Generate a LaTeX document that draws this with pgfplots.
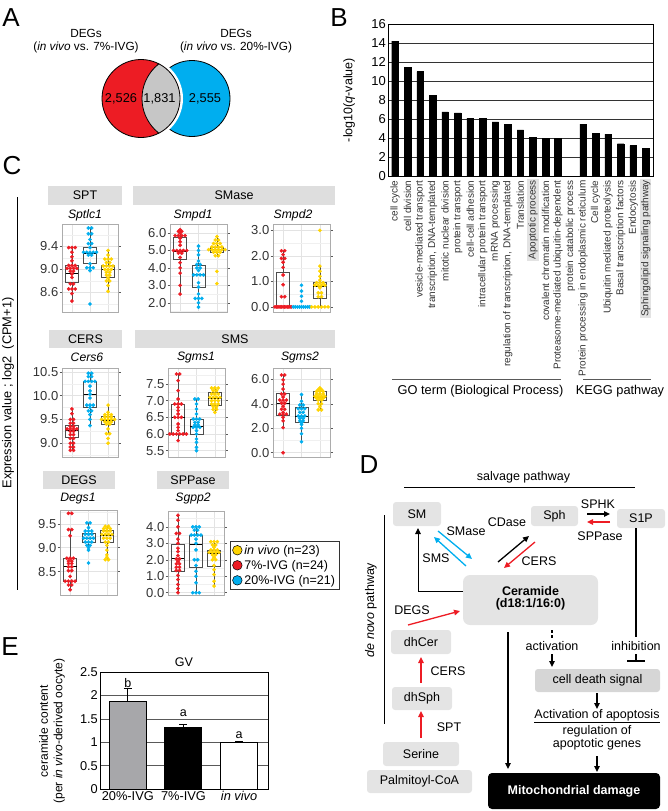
\documentclass[border=0pt]{standalone}
\usepackage{pgfplots}
\pgfplotsset{compat=1.18}
\usepgfplotslibrary{statistics}
\usetikzlibrary{arrows.meta}
\usepackage{fontspec}
\setmainfont{Liberation Sans}
\definecolor{cred}{HTML}{ED1C24}
\definecolor{cblue}{HTML}{00AEEF}
\definecolor{cyel}{HTML}{FFD400}
\definecolor{strip}{HTML}{DEDEDE}
\definecolor{boxg}{HTML}{E4E4E4}
\definecolor{barg}{HTML}{A7A7AA}
\pgfplotsset{
 cplot/.style={scale only axis, anchor=north west, xmin=-0.55, xmax=2.55, xtick={0,1,2}, xticklabels={},
   x tick style={draw=none}, y tick style={draw=gray!70!black, line width=0.5pt},
   major tick length=2.5pt, minor tick length=0pt, tick align=outside,
   axis line style={gray!65, line width=0.6pt},
   xmajorgrids, ymajorgrids, yminorgrids,
   major grid style={gray!22, line width=0.5pt}, minor grid style={gray!12, line width=0.4pt},
   /pgf/number format/assume math mode=true,
   yticklabel style={/pgf/number format/.cd, fixed, fixed zerofill, precision=1, /tikz/.cd, font=\fontsize{13}{14}\selectfont, text=black!80, inner sep=1pt},
   boxplot/draw direction=y, boxplot/box extend=0.7, boxplot/whisker extend=0,
   boxplot/every median/.style={black, line width=0.9pt},
 },
 dots/.style={only marks, mark=*, mark size=1.65pt, mark options={draw=none}},
 bx/.style={draw=gray!60!black, line width=0.5pt, solid, mark=none, fill=none},
}
\tikzset{arr/.style={-{Triangle[length=6pt,width=5.5pt]}, line width=1.3pt},
 blab/.style={rotate=90, anchor=east, inner sep=1.5pt, font=\fontsize{10}{11}\selectfont, text=black!80},
 blabh/.style={blab, fill=gray!22, inner sep=1pt}}
\begin{document}
\begin{tikzpicture}[font=\fontsize{12.5}{14.5}\selectfont]
\useasboundingbox (0pt,0pt) rectangle (667pt,-811pt);
\begin{scope}[x=1pt,y=-1pt]
% panel letters
\node[font=\fontsize{26}{28}\selectfont] at (11,17.5) {A};
\node[font=\fontsize{26}{28}\selectfont] at (339,18) {B};
\node[font=\fontsize{26}{28}\selectfont] at (12,166) {C};
\node[font=\fontsize{26}{28}\selectfont] at (369,465) {D};
\node[font=\fontsize{26}{28}\selectfont] at (10,647) {E};
% ---------- A: Venn
\node[align=center, font=\fontsize{11.8}{13}\selectfont] at (86,41.5) {DEGs\\(\textit{in vivo} vs. 7\%-IVG)};
\node[align=center, font=\fontsize{11.8}{13}\selectfont] at (236,41.5) {DEGs\\(\textit{in vivo} vs. 20\%-IVG)};
\fill[cblue] (192,98.5) circle (38);
\draw[black, line width=0.8pt] (192,98.5) circle (38);
\fill[white] (141,98.5) circle (42);
\fill[cred] (141,98.5) circle (39);
\begin{scope}
 \clip (141,98.5) circle (39);
 \fill[gray!45] (186,98.5) circle (44);
 \draw[black, line width=0.8pt] (186,98.5) circle (44);
\end{scope}
\draw[black, line width=0.8pt] (141,98.5) circle (39);
\node[font=\fontsize{12.8}{14}\selectfont] at (121,99) {2,526};
\node[font=\fontsize{12.8}{14}\selectfont] at (159.5,99) {1,831};
\node[font=\fontsize{12.8}{14}\selectfont] at (205,99) {2,555};
% ---------- B: group lines
\draw[gray!70!black, line width=1pt] (392,379) -- (561,379);
\draw[gray!70!black, line width=1pt] (583,379) -- (651,379);
\node[font=\fontsize{12.8}{14}\selectfont] at (480.5,391) {GO term (Biological Process)};
\node[font=\fontsize{12.8}{14}\selectfont] at (620,391) {KEGG pathway};
% ---------- C: strips, labels
\draw[black, line width=0.8pt] (17,197) -- (17,590);
\node[rotate=90, font=\fontsize{12.8}{14}\selectfont] at (8,393) {Expression value ; log2 \ (CPM+1)};
\fill[strip] (48,186) rectangle (122,205); \node at (85,195.5) {SPT};
\fill[strip] (133,186) rectangle (335,205); \node at (234,195.5) {SMase};
\node[font=\itshape\fontsize{12.2}{13}\selectfont] at (85,215) {Sptlc1};
\node[font=\itshape\fontsize{12.2}{13}\selectfont] at (193,215) {Smpd1};
\node[font=\itshape\fontsize{12.2}{13}\selectfont] at (293,215) {Smpd2};
\fill[strip] (49,330) rectangle (122,348); \node at (85.5,339) {CERS};
\fill[strip] (135,330) rectangle (335,348); \node at (235,339) {SMS};
\node[font=\itshape\fontsize{12.2}{13}\selectfont] at (87,357.5) {Cers6};
\node[font=\itshape\fontsize{12.2}{13}\selectfont] at (196,357.5) {Sgms1};
\node[font=\itshape\fontsize{12.2}{13}\selectfont] at (300,357.5) {Sgms2};
\fill[strip] (43,471) rectangle (115,489); \node at (79,480) {DEGS};
\fill[strip] (157,471) rectangle (229,489); \node at (193,480) {SPPase};
\node[font=\itshape\fontsize{12.2}{13}\selectfont] at (78,498.5) {Degs1};
\node[font=\itshape\fontsize{12.2}{13}\selectfont] at (193,498.5) {Sgpp2};
% ---------- E: y label
\node[rotate=90, align=center, font=\fontsize{12}{14.5}\selectfont] at (52,731) {ceramide content\\(per \textit{in vivo}-derived oocyte)};
% ---------- D: diagram
\node at (523.5,477) {salvage pathway};
\draw[line width=0.8pt] (404,487) -- (635,487);
\fill[boxg, rounded corners=3pt] (393,502) rectangle (441,526); \node at (417,514) {SM};
\fill[boxg, rounded corners=3pt] (531,506) rectangle (578,526); \node at (554.5,516) {Sph};
\fill[boxg, rounded corners=3pt] (617,509) rectangle (665,528); \node at (641,518.5) {S1P};
\fill[boxg, rounded corners=7pt] (463,575) rectangle (598,625);
\node[align=center, font=\bfseries\fontsize{12.5}{12}\selectfont] at (530.5,598) {Ceramide\\(d18:1/16:0)};
\fill[boxg, rounded corners=3pt] (391,630) rectangle (451,654); \node at (421,642) {dhCer};
\fill[boxg, rounded corners=3pt] (392,687) rectangle (452,710); \node at (422,698.5) {dhSph};
\fill[boxg, rounded corners=3pt] (383,742) rectangle (459,766); \node at (421,754) {Serine};
\fill[boxg, rounded corners=3pt] (367,770) rectangle (472,793); \node at (419.5,781.5) {Palmitoyl-CoA};
\fill[gray!32, rounded corners=3pt] (535,669) rectangle (660,692); \node at (597.5,680.5) {cell death signal};
\fill[black, rounded corners=4pt] (488,773) rectangle (660,809);
\node[white, font=\bfseries\fontsize{12.5}{14}\selectfont] at (574,791) {Mitochondrial damage};
\draw[arr] (587,514) -- (610,514); \node at (598,504) {SPHK};
\draw[arr, cred] (610,522) -- (587,522); \node at (600,536) {SPPase};
\draw[arr, cblue] (438,531) -- (472,559);
\draw[arr, cblue] (466,566) -- (434,537);
\node at (466,531) {SMase};
\node at (436,558) {SMS};
\draw[arr] (498,562) -- (529,536); \node at (507,522.5) {CDase};
\draw[arr, cred] (535,542) -- (504,568); \node at (539,561) {CERS};
\draw[line width=1pt, -{Triangle[length=6pt,width=5.5pt]}] (463,591) -- (418,591) -- (418,528);
\draw[line width=0.8pt] (384,515) -- (384,724);
\node[rotate=90] at (371,610) {\textit{de novo} pathway};
\draw[line width=1.3pt] (636,528) -- (636,637);
\node at (636,646) {inhibition};
\draw[line width=1.3pt] (636,654) -- (636,661);
\draw[line width=2.6pt] (627,661) -- (645,661);
\draw[line width=1.3pt, dash pattern=on 3pt off 2pt] (552,630) -- (552,638);
\node at (552,646) {activation};
\draw[arr] (552,654) -- (552,667);
\draw[arr] (508,632) -- (508,769);
\draw[arr] (597,693) -- (597,709);
\node at (597,716) {\underline{Activation of apoptosis}};
\node[align=center, font=\fontsize{12.5}{11.5}\selectfont] at (597,737.5) {regulation of\\apoptotic genes};
\draw[arr] (597,756) -- (597,772);
\draw[arr, cred] (408,625) -- (460,611); \node at (412,610.5) {DEGS};
\draw[arr, cred] (421,683) -- (421,657); \node at (448,671) {CERS};
\draw[arr, cred] (421,738) -- (421,711); \node at (449,727) {SPT};
\node[font=\fontsize{12.5}{14}\selectfont] at (184,662) {GV};
\end{scope}

% ================= B: bar chart
\begin{axis}[at={(388pt,-24pt)}, anchor=north west, scale only axis, width=265pt, height=152pt,
 ymin=0, ymax=16, ytick={0,2,...,16}, xmin=-0.56, xmax=20.58,
 xtick={0,...,20}, xticklabels={}, clip=false,
 tick style={draw=none},
 ymajorgrids, major grid style={black!80, line width=0.5pt},
 axis line style={black, line width=0.7pt},
 /pgf/number format/assume math mode=true,
 yticklabel style={font=\fontsize{13}{14}\selectfont, inner sep=2pt},
 ylabel={-log10({\itshape q}-value)}, ylabel style={font=\fontsize{12.5}{14}\selectfont, at={(axis description cs:-0.147,0.5)}, anchor=center},
]
\addplot[ybar, bar width=6.6pt, bar shift=0pt, fill=black, draw=black] coordinates {
(0,14.2)(1,11.45)(2,11.0)(3,8.5)(4,6.75)(5,6.65)(6,6.1)(7,6.1)(8,5.7)(9,5.45)(10,4.85)(11,4.05)(12,3.95)(13,3.95)
(15,5.45)(16,4.5)(17,4.4)(18,3.4)(19,3.2)(20,2.9)};
\node[blab] at (axis cs:0,-0.3) {cell cycle};
\node[blab] at (axis cs:1,-0.3) {cell division};
\node[blab] at (axis cs:2,-0.3) {vesicle-mediated transport};
\node[blab] at (axis cs:3,-0.3) {transcription, DNA-templated};
\node[blab] at (axis cs:4,-0.3) {mitotic nuclear division};
\node[blab] at (axis cs:5,-0.3) {protein transport};
\node[blab] at (axis cs:6,-0.3) {cell-cell adhesion};
\node[blab] at (axis cs:7,-0.3) {intracellular protein transport};
\node[blab] at (axis cs:8,-0.3) {mRNA processing};
\node[blab] at (axis cs:9,-0.3) {regulation of transcription, DNA-templated};
\node[blab] at (axis cs:10,-0.3) {Translation};
\node[blabh] at (axis cs:11,-0.3) {Apoptotic process};
\node[blab] at (axis cs:12,-0.3) {covalent chromatin modification};
\node[blab] at (axis cs:13,-0.3) {Proteasome-mediated ubiquitin-dependent};
\node[blab] at (axis cs:14,-0.3) {protein catabolic process};
\node[blab] at (axis cs:15,-0.3) {Protein processing in endoplasmic reticulum};
\node[blab] at (axis cs:16,-0.3) {Cell cycle};
\node[blab] at (axis cs:17,-0.3) {Ubiquitin mediated proteolysis};
\node[blab] at (axis cs:18,-0.3) {Basal transcription factors};
\node[blab] at (axis cs:19,-0.3) {Endocytosis};
\node[blabh] at (axis cs:20,-0.3) {Sphingolipid signaling pathway};
\end{axis}

% ================= C: Sptlc1
\begin{axis}[cplot, at={(62pt,-224pt)}, width=56pt, height=88pt, ymin=8.26, ymax=9.79, ytick={8.6,9.0,9.4}, minor ytick={8.4,8.8,9.2,9.6}]
\addplot[dots, cred] coordinates {(-0.18,9.38)(0,9.38)(0.18,9.38)(0,9.30)(0,9.22)(0,9.15)(-0.18,9.07)(0,9.07)(0.18,9.07)(-0.27,9.02)(-0.09,9.02)(0.09,9.02)(0.27,9.02)(-0.09,8.97)(0.09,8.97)(0,8.92)(0,8.86)(-0.09,8.75)(0.09,8.75)(-0.18,8.66)(0,8.66)(0.18,8.66)(0,8.58)(0,8.45)};
\addplot[dots, cblue] coordinates {(0.91,9.72)(1.09,9.72)(0.91,9.62)(1.09,9.62)(1,9.52)(0.91,9.45)(1.09,9.45)(1,9.38)(0.64,9.3)(0.82,9.3)(1,9.3)(1.18,9.3)(1.36,9.3)(0.91,9.25)(1.09,9.25)(1,9.1)(0.82,9.03)(1,9.03)(1.18,9.03)(1,8.98)(1,8.4)};
\addplot[dots, cyel] coordinates {(2,9.33)(2,9.25)(1.82,9.18)(2,9.18)(2.18,9.18)(1.91,9.12)(2.09,9.12)(1.73,9.06)(1.91,9.06)(2.09,9.06)(2.27,9.06)(1.82,9.0)(2,9.0)(2.18,9.0)(1.91,8.95)(2.09,8.95)(1.91,8.9)(2.09,8.9)(2,8.85)(1.91,8.8)(2.09,8.8)(2,8.72)(2,8.62)};
\addplot[bx, boxplot prepared={draw position=0, lower whisker=8.45, lower quartile=8.78, median=8.93, upper quartile=9.07, upper whisker=9.38}] coordinates {};
\addplot[bx, boxplot prepared={draw position=1, lower whisker=8.98, lower quartile=9.1, median=9.28, upper quartile=9.38, upper whisker=9.72}] coordinates {};
\addplot[bx, boxplot prepared={draw position=2, lower whisker=8.62, lower quartile=8.86, median=9.0, upper quartile=9.08, upper whisker=9.33}] coordinates {};
\end{axis}

% ================= C: Smpd1
\begin{axis}[cplot, at={(170pt,-224pt)}, width=57pt, height=88pt, ymin=1.47, ymax=6.52, ytick={2,3,4,5,6}, minor ytick={1.5,2.5,3.5,4.5,5.5,6.5}]
\addplot[dots, cred] coordinates {(0,6.2)(-0.09,6.1)(0.09,6.1)(0,6.0)(-0.27,5.85)(-0.09,5.85)(0.09,5.85)(0.27,5.85)(0,5.7)(0,5.5)(0,5.3)(-0.36,5.0)(-0.18,5.0)(0,5.0)(0.18,5.0)(0.36,5.0)(-0.09,4.85)(0.09,4.85)(0,4.6)(0,4.3)(0,4.0)(0,3.7)(0,3.0)(0,2.5)};
\addplot[dots, cblue] coordinates {(1,5.25)(1,5.0)(1,4.75)(1,4.4)(0.91,4.2)(1.09,4.2)(0.91,4.0)(1.09,4.0)(1,3.85)(0.73,3.6)(0.91,3.6)(1.09,3.6)(1.27,3.6)(1,3.15)(1,2.9)(1,2.5)(0.82,2.25)(1,2.25)(1.18,2.25)(1,2.0)(1,1.75)};
\addplot[dots, cyel] coordinates {(2,5.8)(1.91,5.6)(2.09,5.6)(1.82,5.4)(2,5.4)(2.18,5.4)(1.73,5.2)(1.91,5.2)(2.09,5.2)(2.27,5.2)(1.55,5.05)(1.73,5.05)(1.91,5.05)(2.09,5.05)(2.27,5.05)(2.45,5.05)(1.82,4.9)(2,4.9)(2.18,4.9)(1.91,4.7)(2.09,4.7)(2,3.8)(2,3.1)};
\addplot[bx, boxplot prepared={draw position=0, lower whisker=2.5, lower quartile=4.5, median=4.95, upper quartile=5.75, upper whisker=6.2}] coordinates {};
\addplot[bx, boxplot prepared={draw position=1, lower whisker=1.75, lower quartile=2.9, median=3.6, upper quartile=4.15, upper whisker=5.25}] coordinates {};
\addplot[bx, boxplot prepared={draw position=2, lower whisker=4.6, lower quartile=4.88, median=5.05, upper quartile=5.2, upper whisker=5.8}] coordinates {};
\end{axis}

% ================= C: Smpd2
\begin{axis}[cplot, at={(273pt,-224pt)}, width=57pt, height=88pt, ymin=-0.2, ymax=3.25, ytick={0,1,2,3}, minor ytick={0.5,1.5,2.5}]
\addplot[dots, cred] coordinates {(-0.09,2.2)(0.09,2.2)(0,2.05)(-0.09,1.9)(0.09,1.9)(0,1.75)(0,1.55)(0,1.25)(0,0.87)(-0.09,0.4)(0.09,0.4)(-0.45,0)(-0.375,0)(-0.3,0)(-0.225,0)(-0.15,0)(-0.075,0)(0,0)(0.075,0)(0.15,0)(0.225,0)(0.3,0)(0.375,0)(0.45,0)};
\addplot[dots, cblue] coordinates {(1,0.85)(1,0.62)(1,0.42)(1,0.22)(0.55,0)(0.66,0)(0.78,0)(0.89,0)(1,0)(1.11,0)(1.22,0)(1.34,0)(1.45,0)};
\addplot[dots, cyel] coordinates {(2,3.0)(2,1.6)(2,1.4)(2,1.2)(2,1.05)(1.82,0.95)(2,0.95)(2.18,0.95)(1.73,0.85)(1.91,0.85)(2.09,0.85)(2.27,0.85)(2,0.75)(1.91,0.55)(2.09,0.55)(1.91,0.4)(2.09,0.4)(1.55,0)(1.73,0)(1.91,0)(2.09,0)(2.27,0)(2.45,0)};
\addplot[bx, boxplot prepared={draw position=0, lower whisker=0, lower quartile=0, median=0, upper quartile=1.35, upper whisker=2.2}] coordinates {};
\addplot[bx, boxplot prepared={draw position=1, lower whisker=0, lower quartile=0, median=0, upper quartile=0, upper whisker=0}] coordinates {};
\addplot[bx, boxplot prepared={draw position=2, lower whisker=0, lower quartile=0.35, median=0.82, upper quartile=0.95, upper whisker=1.6}] coordinates {};
\end{axis}

% ================= C: Cers6
\begin{axis}[cplot, at={(62pt,-368pt)}, width=56pt, height=89pt, ymin=8.71, ymax=10.58, ytick={9.0,9.5,10.0,10.5}, minor ytick={8.75,9.25,9.75,10.25}]
\addplot[dots, cred] coordinates {(0,9.72)(0,9.62)(-0.09,9.5)(0.09,9.5)(-0.09,9.42)(0.09,9.42)(-0.09,9.35)(0.09,9.35)(-0.27,9.3)(-0.09,9.3)(0.09,9.3)(0.27,9.3)(-0.09,9.25)(0.09,9.25)(-0.09,9.18)(0.09,9.18)(-0.09,9.1)(0.09,9.1)(-0.09,9.0)(0.09,9.0)(-0.09,8.92)(0.09,8.92)(-0.09,8.85)(0.09,8.85)};
\addplot[dots, cblue] coordinates {(0.91,10.47)(1.09,10.47)(0.91,10.4)(1.09,10.4)(0.73,10.3)(0.91,10.3)(1.09,10.3)(1.27,10.3)(1,10.2)(1,10.1)(1,10.03)(1,9.95)(0.82,9.8)(1,9.8)(1.18,9.8)(1,9.75)(0.91,9.68)(1.09,9.68)(1,9.6)(1,9.5)(1,9.37)};
\addplot[dots, cyel] coordinates {(2,9.8)(2,9.65)(1.82,9.6)(2,9.6)(2.18,9.6)(1.82,9.55)(2,9.55)(2.18,9.55)(1.64,9.5)(1.82,9.5)(2,9.5)(2.18,9.5)(2.36,9.5)(1.82,9.45)(2,9.45)(2.18,9.45)(1.91,9.4)(2.09,9.4)(2,9.3)(1.91,9.2)(2.09,9.2)(2,9.1)(2,9.0)};
\addplot[bx, boxplot prepared={draw position=0, lower whisker=8.85, lower quartile=9.13, median=9.27, upper quartile=9.37, upper whisker=9.72}] coordinates {};
\addplot[bx, boxplot prepared={draw position=1, lower whisker=9.37, lower quartile=9.75, median=10.03, upper quartile=10.3, upper whisker=10.47}] coordinates {};
\addplot[bx, boxplot prepared={draw position=2, lower whisker=9.2, lower quartile=9.4, median=9.48, upper quartile=9.57, upper whisker=9.8}] coordinates {};
\end{axis}

% ================= C: Sgms1
\begin{axis}[cplot, at={(168pt,-368pt)}, width=57pt, height=89pt, ymin=5.31, ymax=7.98, ytick={5.5,6.0,6.5,7.0,7.5}, minor ytick={5.75,6.25,6.75,7.25,7.75}]
\addplot[dots, cred] coordinates {(-0.09,7.8)(0.09,7.8)(0,7.6)(0,7.3)(0,7.05)(-0.18,6.9)(0,6.9)(0.18,6.9)(0,6.8)(0,6.7)(0,6.6)(-0.18,6.5)(0,6.5)(0.18,6.5)(0,6.3)(0,6.2)(0,6.1)(-0.45,6.0)(-0.27,6.0)(-0.09,6.0)(0.09,6.0)(0.27,6.0)(0.45,6.0)(0,5.8)};
\addplot[dots, cblue] coordinates {(0.91,7.05)(1.09,7.05)(1,6.9)(1,6.75)(1,6.6)(0.82,6.45)(1,6.45)(1.18,6.45)(0.91,6.35)(1.09,6.35)(0.91,6.27)(1.09,6.27)(0.82,6.2)(1,6.2)(1.18,6.2)(1,6.1)(1,6.0)(1,5.85)(1,5.75)(1,5.6)(1,5.5)};
\addplot[dots, cyel] coordinates {(1.82,7.38)(2,7.38)(2.18,7.38)(1.91,7.3)(2.09,7.3)(1.82,7.2)(2,7.2)(2.18,7.2)(1.73,7.1)(1.91,7.1)(2.09,7.1)(2.27,7.1)(1.82,7.0)(2,7.0)(2.18,7.0)(1.82,6.9)(2,6.9)(2.18,6.9)(1.91,6.82)(2.09,6.82)(1.91,6.74)(2.09,6.74)(2,6.65)};
\addplot[bx, boxplot prepared={draw position=0, lower whisker=5.8, lower quartile=6.0, median=6.5, upper quartile=6.9, upper whisker=7.8}] coordinates {};
\addplot[bx, boxplot prepared={draw position=1, lower whisker=5.5, lower quartile=6.0, median=6.22, upper quartile=6.45, upper whisker=7.05}] coordinates {};
\addplot[bx, boxplot prepared={draw position=2, lower whisker=6.65, lower quartile=6.85, median=7.08, upper quartile=7.25, upper whisker=7.38}] coordinates {};
\end{axis}

% ================= C: Sgms2
\begin{axis}[cplot, at={(273pt,-368pt)}, width=57pt, height=89pt, ymin=-0.35, ymax=6.92, ytick={0,2,4,6}, minor ytick={1,3,5}]
\addplot[dots, cred] coordinates {(-0.09,6.35)(0.09,6.35)(0,5.95)(0,5.6)(0,5.2)(-0.09,4.8)(0.09,4.8)(0,4.55)(-0.18,4.3)(0,4.3)(0.18,4.3)(-0.09,4.05)(0.09,4.05)(0,3.8)(-0.09,3.55)(0.09,3.55)(0,3.3)(-0.18,3.15)(0,3.15)(0.18,3.15)(0,2.9)(0,2.6)(0,2.05)(0,0)};
\addplot[dots, cblue] coordinates {(1,4.75)(1,4.2)(0.91,3.9)(1.09,3.9)(0.82,3.6)(1,3.6)(1.18,3.6)(0.91,3.3)(1.09,3.3)(0.82,3.0)(1,3.0)(1.18,3.0)(0.91,2.8)(1.09,2.8)(0.91,2.6)(1.09,2.6)(1,2.3)(1,2.0)(1,1.55)(1,0.9)(1,2.45)};
\addplot[dots, cyel] coordinates {(2,5.3)(1.91,5.15)(2.09,5.15)(1.82,5.0)(2,5.0)(2.18,5.0)(1.82,4.8)(2,4.8)(2.18,4.8)(1.73,4.6)(1.91,4.6)(2.09,4.6)(2.27,4.6)(1.82,4.45)(2,4.45)(2.18,4.45)(1.91,4.3)(2.09,4.3)(1.91,4.0)(2.09,4.0)(2,3.75)(1.91,3.5)(2.09,3.5)};
\addplot[bx, boxplot prepared={draw position=0, lower whisker=2.05, lower quartile=3.1, median=4.05, upper quartile=4.85, upper whisker=6.35}] coordinates {};
\addplot[bx, boxplot prepared={draw position=1, lower whisker=0.9, lower quartile=2.5, median=2.95, upper quartile=3.75, upper whisker=4.75}] coordinates {};
\addplot[bx, boxplot prepared={draw position=2, lower whisker=3.5, lower quartile=4.3, median=4.55, upper quartile=5.05, upper whisker=5.3}] coordinates {};
\end{axis}

% ================= C: Degs1
\begin{axis}[cplot, at={(60pt,-510pt)}, width=57pt, height=85pt, ymin=8.01, ymax=9.79, ytick={8.5,9.0,9.5}, minor ytick={8.25,8.75,9.25,9.75}]
\addplot[dots, cred] coordinates {(-0.09,9.72)(0.09,9.72)(-0.09,9.38)(0.09,9.38)(0,9.25)(-0.18,8.78)(0,8.78)(0.18,8.78)(-0.09,8.72)(0.09,8.72)(-0.09,8.67)(0.09,8.67)(-0.09,8.6)(0.09,8.6)(-0.09,8.52)(0.09,8.52)(0,8.4)(-0.27,8.3)(-0.09,8.3)(0.09,8.3)(0.27,8.3)(-0.09,8.22)(0.09,8.22)(0,8.12)};
\addplot[dots, cblue] coordinates {(0.91,9.52)(1.09,9.52)(1,9.42)(0.82,9.35)(1,9.35)(1.18,9.35)(0.82,9.28)(1,9.28)(1.18,9.28)(0.73,9.2)(0.91,9.2)(1.09,9.2)(1.27,9.2)(0.82,9.12)(1,9.12)(1.18,9.12)(0.91,9.05)(1.09,9.05)(1,8.95)(1,8.68)(1,9.0)};
\addplot[dots, cyel] coordinates {(1.91,9.45)(2.09,9.45)(1.82,9.4)(2,9.4)(2.18,9.4)(1.82,9.35)(2,9.35)(2.18,9.35)(1.73,9.28)(1.91,9.28)(2.09,9.28)(2.27,9.28)(1.82,9.2)(2,9.2)(2.18,9.2)(1.91,9.12)(2.09,9.12)(2,9.05)(2,8.95)(2,8.85)(2,8.8)(1.91,8.75)(2.09,8.75)};
\addplot[bx, boxplot prepared={draw position=0, lower whisker=8.12, lower quartile=8.3, median=8.6, upper quartile=8.78, upper whisker=9.38}] coordinates {};
\addplot[bx, boxplot prepared={draw position=1, lower whisker=8.95, lower quartile=9.12, median=9.2, upper quartile=9.3, upper whisker=9.52}] coordinates {};
\addplot[bx, boxplot prepared={draw position=2, lower whisker=8.75, lower quartile=9.12, median=9.25, upper quartile=9.36, upper whisker=9.45}] coordinates {};
\end{axis}

% ================= C: Sgpp2 (with legend)
\begin{axis}[cplot, at={(168pt,-511.5pt)}, width=56pt, height=83.5pt, ymin=-0.14, ymax=4.93, ytick={0,1,2,3,4}, minor ytick={0.5,1.5,2.5,3.5,4.5},
 legend style={at={(1.107,0.645)}, anchor=north west, draw=black!80, line width=0.6pt, font=\fontsize{12.5}{14}\selectfont, inner xsep=2pt, inner ysep=1.5pt, row sep=0.5pt, legend cell align=left},
 legend image code/.code={\draw[#1, draw=black, line width=0.5pt] (0.3em,0) circle (4.8pt);}]
\addlegendimage{fill=cyel}\addlegendentry{\textit{in vivo} (n=23)}
\addlegendimage{fill=cred}\addlegendentry{7\%-IVG (n=24)}
\addlegendimage{fill=cblue}\addlegendentry{20\%-IVG (n=21)}
\addplot[dots, cred, forget plot] coordinates {(0,4.7)(0,4.4)(0,4.0)(-0.09,3.6)(0.09,3.6)(0,3.25)(0,3.0)(0,2.7)(0,2.5)(0,2.25)(-0.09,2.05)(0.09,2.05)(0,1.9)(-0.09,1.75)(0.09,1.75)(-0.09,1.55)(0.09,1.55)(-0.09,1.35)(0.09,1.35)(0,1.05)(0,0.8)(0,0.5)(0,0.25)(0,0)};
\addplot[dots, cblue, forget plot] coordinates {(0.82,4.0)(1,4.0)(1.18,4.0)(0.91,3.8)(1.09,3.8)(0.73,3.5)(0.91,3.5)(1.09,3.5)(1.27,3.5)(1,3.25)(1,3.0)(1,2.6)(0.91,2.0)(1.09,2.0)(1,1.65)(1,1.3)(1,1.0)(1,0.6)(0.82,0)(1,0)(1.18,0)};
\addplot[dots, cyel, forget plot] coordinates {(1.82,3.1)(2,3.1)(2.18,3.1)(1.91,2.9)(2.09,2.9)(2,2.75)(1.82,2.6)(2,2.6)(2.18,2.6)(1.73,2.45)(1.91,2.45)(2.09,2.45)(2.27,2.45)(1.91,2.3)(2.09,2.3)(2,2.15)(1.91,2.0)(2.09,2.0)(2,1.65)(2,1.4)(2,1.1)(2,0.7)(2,0.4)};
\addplot[bx, forget plot, boxplot prepared={draw position=0, lower whisker=0, lower quartile=1.3, median=2.05, upper quartile=2.95, upper whisker=4.7}] coordinates {};
\addplot[bx, forget plot, boxplot prepared={draw position=1, lower whisker=0, lower quartile=1.55, median=2.9, upper quartile=3.5, upper whisker=4.0}] coordinates {};
\addplot[bx, forget plot, boxplot prepared={draw position=2, lower whisker=0.4, lower quartile=1.6, median=2.4, upper quartile=2.55, upper whisker=3.1}] coordinates {};
\end{axis}

% ================= E
\begin{axis}[at={(100pt,-672pt)}, anchor=north west, scale only axis, width=168pt, height=117pt,
 ymin=0, ymax=2.5, ytick={0,0.5,1,1.5,2,2.5}, yticklabels={0,0.5,1,1.5,2,2.5},
 xmin=-0.5, xmax=2.52, xtick={0,1,2}, xticklabels={20\%-IVG,7\%-IVG,\textit{in vivo}},
 tick style={draw=none}, ymajorgrids, major grid style={black!65, line width=0.6pt},
 axis line style={black, line width=0.8pt},
 ticklabel style={font=\fontsize{12.8}{14}\selectfont},
 yticklabel style={inner sep=2pt},
 xticklabel style={inner sep=2pt},
]
\addplot[ybar, bar width=37pt, bar shift=0pt, fill=barg, draw=black, line width=0.9pt,
 error bars/.cd, y dir=plus, y explicit, error bar style={black, line width=1.1pt}, error mark options={rotate=90, mark size=4pt, black, line width=1.1pt}] coordinates {(0,1.88) +- (0,0.26)};
\addplot[ybar, bar width=37pt, bar shift=0pt, fill=black, draw=black, line width=0.9pt,
 error bars/.cd, y dir=plus, y explicit, error bar style={black, line width=1.1pt}, error mark options={rotate=90, mark size=4pt, black, line width=1.1pt}] coordinates {(1,1.31) +- (0,0.06)};
\addplot[ybar, bar width=37pt, bar shift=0pt, fill=white, draw=black, line width=0.9pt,
 error bars/.cd, y dir=plus, y explicit, error bar style={black, line width=1.1pt}, error mark options={rotate=90, mark size=4pt, black, line width=1.1pt}] coordinates {(2,1.0) +- (0,0.02)};
\node[font=\fontsize{12.5}{14}\selectfont] at (axis cs:0,2.27) {b};
\node[font=\fontsize{12.5}{14}\selectfont] at (axis cs:1,1.62) {a};
\node[font=\fontsize{12.5}{14}\selectfont] at (axis cs:2,1.15) {a};
\end{axis}
\end{tikzpicture}
\end{document}
